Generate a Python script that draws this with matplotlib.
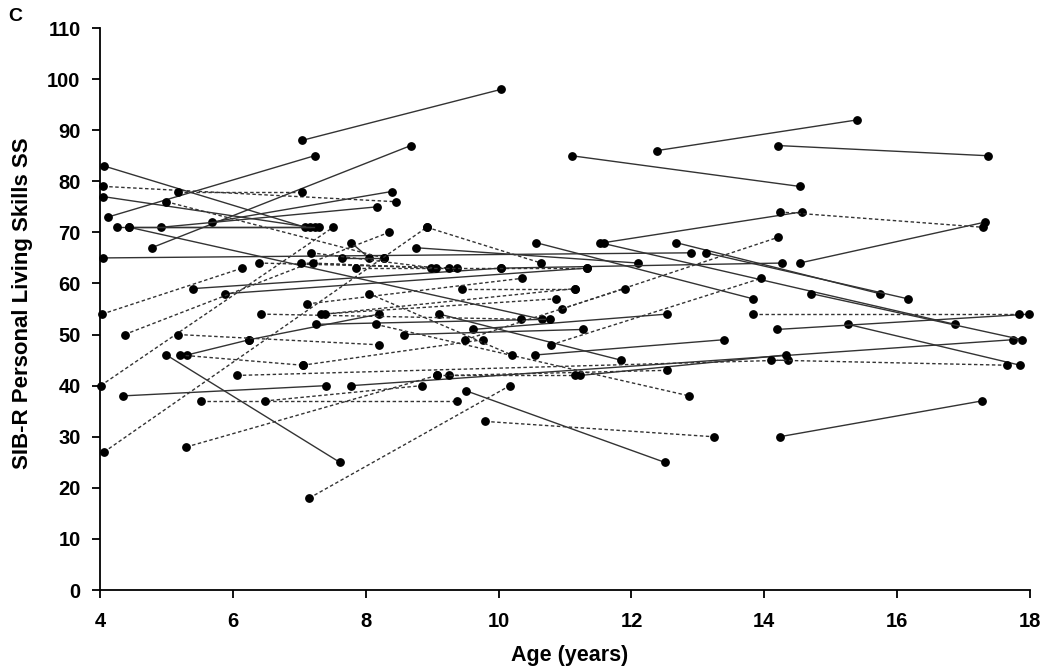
import matplotlib
matplotlib.use("Agg")
import matplotlib.pyplot as plt

plt.rcParams['font.family'] = ['Liberation Sans', 'DejaVu Sans']

# each pair: (age at visit 1, score 1, age at visit 2, score 2)
solid_pairs = [
    (7.04, 88, 10.04, 98), (4.12, 73, 7.23, 85), (4.78, 67, 8.68, 87),
    (11.10, 85, 14.53, 79), (12.38, 86, 15.39, 92), (14.20, 87, 17.37, 85),
    (4.06, 83, 7.09, 71), (4.05, 77, 7.16, 71), (5.68, 72, 8.39, 78),
    (4.92, 71, 8.17, 75), (4.25, 71, 7.23, 71), (4.44, 71, 7.30, 71),
    (4.44, 71, 10.65, 53), (4.04, 65, 12.90, 66), (8.75, 67, 12.10, 64),
    (10.56, 68, 13.83, 57), (11.52, 68, 16.87, 52), (12.67, 68, 15.74, 58),
    (13.12, 66, 16.16, 57), (11.59, 68, 14.56, 74), (14.53, 64, 17.32, 72),
    (10.04, 63, 14.27, 64), (9.51, 39, 12.50, 25), (14.23, 30, 17.27, 37),
    (5.00, 46, 7.61, 25), (4.35, 38, 7.40, 40), (7.78, 40, 17.75, 49),
    (11.23, 42, 14.32, 46), (14.71, 58, 17.88, 49), (15.26, 52, 17.85, 44),
    (14.19, 51, 17.99, 54), (10.55, 46, 13.40, 49), (5.40, 59, 10.04, 63),
    (5.88, 58, 11.33, 63), (5.31, 46, 6.25, 49), (6.25, 49, 8.20, 54),
    (9.61, 51, 12.53, 54), (8.58, 50, 11.27, 51), (9.11, 54, 11.84, 45),
    (7.25, 52, 10.78, 53), (7.78, 68, 8.05, 65), (7.65, 65, 8.27, 65),
]

dashed_pairs = [
    (4.05, 79, 8.46, 76), (5.00, 76, 8.27, 65), (5.17, 78, 7.04, 78),
    (4.37, 50, 8.35, 70), (4.01, 40, 7.51, 71), (4.06, 27, 8.92, 71),
    (8.92, 71, 10.64, 64), (14.23, 74, 17.29, 71), (10.95, 55, 14.20, 69),
    (10.79, 48, 13.95, 61), (9.45, 59, 11.15, 59), (8.15, 52, 12.87, 38),
    (9.80, 33, 13.24, 30), (5.30, 28, 9.07, 42), (7.15, 18, 10.17, 40),
    (5.52, 37, 9.38, 37), (6.48, 37, 8.84, 40), (6.06, 42, 14.35, 45),
    (9.25, 42, 12.53, 43), (9.07, 42, 11.15, 42), (14.10, 45, 17.65, 44),
    (13.83, 54, 17.84, 54), (4.03, 54, 6.14, 63), (6.39, 64, 9.38, 63),
    (7.02, 64, 9.25, 63), (7.20, 64, 8.99, 63), (7.18, 66, 9.06, 63),
    (7.12, 56, 10.35, 61), (5.18, 50, 8.20, 48), (6.43, 54, 10.34, 53),
    (7.33, 54, 10.86, 57), (7.38, 54, 11.15, 59), (5.20, 46, 7.05, 44),
    (7.05, 44, 9.77, 49), (9.50, 49, 11.90, 59), (8.05, 58, 10.20, 46),
    (7.85, 63, 11.33, 63),
]

x_ticks = list(range(4, 19, 2))
y_ticks = list(range(0, 111, 10))

fig = plt.figure(figsize=(10.5, 6.67), dpi=100)
ax = fig.add_axes([0.0952, 0.1154, 0.8858, 0.8426])

for x0, y0, x1, y1 in solid_pairs:
    ax.plot([x0, x1], [y0, y1], color='#333333', lw=1.0, ls='-',
            marker='o', ms=5.3, mfc='black', mec='black', clip_on=False)
for x0, y0, x1, y1 in dashed_pairs:
    ax.plot([x0, x1], [y0, y1], color='#333333', lw=1.0, ls=(0, (2.5, 1.8)),
            marker='o', ms=5.3, mfc='black', mec='black', clip_on=False)

ax.set_xlim(4, 18)
ax.set_ylim(0, 110)
ax.set_xticks(x_ticks)
ax.set_yticks(y_ticks)
ax.spines['top'].set_visible(False)
ax.spines['right'].set_visible(False)
ax.spines['left'].set_linewidth(1.3)
ax.spines['bottom'].set_linewidth(1.3)
ax.tick_params(direction='out', length=6, width=1.3, labelsize=14.5)
ax.tick_params(axis='y', pad=8)
ax.tick_params(axis='x', pad=9.5)
for lab in ax.get_xticklabels() + ax.get_yticklabels():
    lab.set_fontweight('bold')

ax.set_xlabel('Age (years)', fontsize=15.5, fontweight='bold')
ax.set_ylabel('SIB-R Personal Living Skills SS', fontsize=16, fontweight='bold')
ax.xaxis.set_label_coords(0.505, -0.098)
ax.yaxis.set_label_coords(-0.072, 0.51)
fig.text(0.0076, 0.988, 'C', fontsize=14, fontweight='bold', va='top', ha='left')

fig.savefig('out.png', dpi=100)
